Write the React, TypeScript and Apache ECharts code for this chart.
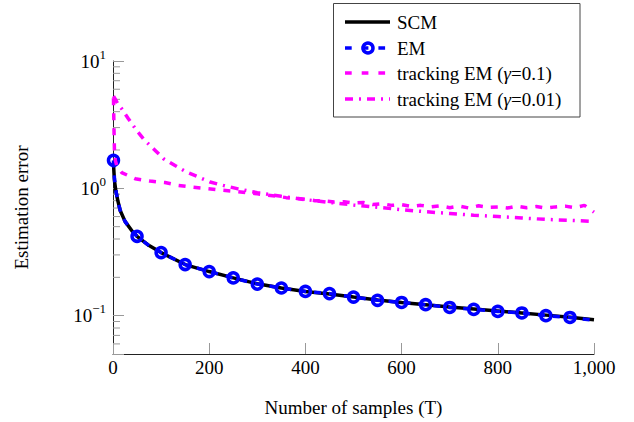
import React, { useEffect, useRef } from 'react';
import * as echarts from 'echarts';

// ---- data ----
const scmT = [1, 3, 6, 10, 15, 25, 40, 50, 75, 100, 150, 200, 250, 300, 350, 400, 450, 500, 550, 600, 650, 700, 750, 800, 850, 900, 950, 1000];
const scmV = [1.55, 1.15, 0.95, 0.8, 0.67, 0.55, 0.46, 0.42, 0.355, 0.313, 0.252, 0.222, 0.198, 0.178, 0.165, 0.155, 0.148, 0.14, 0.133, 0.127, 0.122, 0.117, 0.113, 0.109, 0.105, 0.101, 0.097, 0.093];

const emT = [1, 3, 6, 10, 15, 25, 40, 50, 75, 100, 150, 200, 250, 300, 350, 400, 450, 500, 550, 600, 650, 700, 750, 800, 850, 900, 950, 1000];
const emV = [1.66, 1.2, 0.96, 0.8, 0.67, 0.55, 0.46, 0.42, 0.355, 0.313, 0.252, 0.222, 0.198, 0.177, 0.165, 0.155, 0.149, 0.14, 0.132, 0.127, 0.122, 0.116, 0.112, 0.108, 0.105, 0.1, 0.0968, 0.092];
const emMarkerStep = 50;

const g01T = [1, 2, 3, 5, 8, 18, 46, 77, 108, 136, 167, 195, 229, 254, 280, 300, 320, 340, 360, 380, 400, 420, 440, 460, 480, 500, 520, 540, 560, 580, 600, 620, 640, 660, 680, 700, 720, 740, 760, 780, 800, 820, 840, 860, 880, 900, 920, 940, 960, 980, 1000];
const g01V = [5.1, 3.0, 2.0, 1.65, 1.5, 1.33, 1.19, 1.14, 1.11, 1.055, 1.02, 0.995, 0.965, 0.947, 0.925, 0.905, 0.885, 0.87, 0.845, 0.835, 0.82, 0.8, 0.795, 0.78, 0.785, 0.765, 0.775, 0.745, 0.755, 0.735, 0.745, 0.72, 0.735, 0.715, 0.73, 0.705, 0.725, 0.7, 0.73, 0.71, 0.715, 0.7, 0.725, 0.705, 0.72, 0.7, 0.715, 0.725, 0.705, 0.735, 0.65];

const g001T = [1, 5, 10, 18, 32, 49, 66, 84, 105, 129, 153, 177, 202, 229, 260, 300, 350, 400, 450, 500, 550, 600, 650, 700, 750, 800, 850, 900, 950, 1000];
const g001V = [5.3, 5.0, 4.6, 4.22, 3.52, 2.85, 2.38, 2.05, 1.71, 1.51, 1.34, 1.23, 1.12, 1.055, 0.99, 0.925, 0.865, 0.815, 0.775, 0.74, 0.71, 0.68, 0.655, 0.635, 0.615, 0.6, 0.585, 0.57, 0.56, 0.55];

const yMinorTicks = [0.06, 0.07, 0.08, 0.09, 0.2, 0.3, 0.4, 0.5, 0.6, 0.7, 0.8, 0.9, 2, 3, 4, 5, 6, 7, 8, 9];

const seriesNames = ['SCM', 'EM', 'tracking EM (γ=0.1)', 'tracking EM (γ=0.01)'];
const xTitle = 'Number of samples (T)';
const yTitle = 'Estimation error';

const FONT = 'Liberation Serif';
const FS = 19;
const MAGENTA = '#ff00ff';
const BLUE = '#0000ff';
const DASH = [7, 8];
const DASHDOT = [8, 6, 2, 6];

const zip = (ts: number[], vs: number[]) => ts.map((t, i) => [t, vs[i]]);

export default function App() {
  const ref = useRef<HTMLDivElement>(null);
  useEffect(() => {
    const chart = echarts.init(ref.current!, null, { renderer: 'svg' });
    const legendText = (name: string) => name.replace('γ', '{i|γ}');
    const rowY = [22, 48, 73, 99];
    chart.setOption({
      animation: false,
      textStyle: { fontFamily: FONT },
      grid: { left: 113, right: 40, top: 61, bottom: 68 },
      xAxis: {
        type: 'value',
        min: 0,
        max: 1000,
        interval: 200,
        name: xTitle,
        nameLocation: 'middle',
        nameGap: 44,
        nameTextStyle: { fontFamily: FONT, fontSize: FS, color: '#000' },
        axisLine: { lineStyle: { color: '#222', width: 1 } },
        axisTick: { inside: true, length: 11, lineStyle: { color: '#999', width: 1 } },
        axisLabel: {
          margin: 4,
          fontFamily: FONT,
          fontSize: FS,
          color: '#000',
          formatter: (v: number) => v.toLocaleString('en-US'),
        },
        splitLine: { show: false },
      },
      yAxis: {
        type: 'log',
        logBase: 10,
        min: 0.05,
        max: 10,
        name: yTitle,
        nameLocation: 'middle',
        nameGap: 82,
        nameTextStyle: { fontFamily: FONT, fontSize: FS, color: '#000' },
        axisLine: { show: true, lineStyle: { color: '#222', width: 1 } },
        axisTick: { show: true, inside: true, length: 11, lineStyle: { color: '#999', width: 1 } },
        axisLabel: {
          margin: 7,
          color: '#000',
          formatter: (v: number) => {
            const l = Math.log10(v);
            const e = Math.round(l);
            if (Math.abs(l - e) > 1e-6) return '';
            return `{b|10}{s|${e < 0 ? '−' + -e : e}}`;
          },
          rich: {
            b: { fontFamily: FONT, fontSize: FS, color: '#000' },
            s: { fontFamily: FONT, fontSize: 13, color: '#000', padding: [0, 0, 14, 0] },
          },
        },
        splitLine: { show: false },
      },
      series: [
        {
          type: 'custom',
          name: 'minorTicks',
          silent: true,
          coordinateSystem: 'cartesian2d',
          data: yMinorTicks.map((v) => [0, v]),
          renderItem: (params: any, api: any) => {
            const p = api.coord([0, api.value(1)]);
            return {
              type: 'line',
              shape: { x1: p[0], y1: p[1], x2: p[0] + 7, y2: p[1] },
              style: { stroke: '#999', lineWidth: 1 },
            };
          },
          z: 1,
        },
        {
          type: 'line',
          name: seriesNames[0],
          data: zip(scmT, scmV),
          symbol: 'none',
          lineStyle: { color: '#000', width: 3.5 },
          itemStyle: { color: '#000' },
          z: 2,
        },
        {
          type: 'line',
          name: seriesNames[1],
          data: zip(emT, emV),
          showAllSymbol: true,
          symbol: (value: number[]) =>
            value[0] === 1 || (value[0] % emMarkerStep === 0 && value[0] < 1000) ? 'circle' : 'none',
          symbolSize: 10,
          lineStyle: { color: BLUE, width: 3.5, type: DASH },
          itemStyle: { color: 'rgba(0,0,0,0)', borderColor: BLUE, borderWidth: 3.5 },
          z: 3,
        },
        {
          type: 'line',
          name: seriesNames[2],
          data: zip(g01T, g01V),
          symbol: 'none',
          lineStyle: { color: MAGENTA, width: 3.5, type: DASH },
          itemStyle: { color: MAGENTA },
          z: 4,
        },
        {
          type: 'line',
          name: seriesNames[3],
          data: zip(g001T, g001V),
          symbol: 'none',
          lineStyle: { color: MAGENTA, width: 3.5, type: DASHDOT },
          itemStyle: { color: MAGENTA },
          z: 5,
        },
      ],
      graphic: [
        {
          type: 'group',
          z: 100,
          children: [
            {
              type: 'rect',
              shape: { x: 333.5, y: 3.5, width: 246.5, height: 113.5 },
              style: { fill: '#fff', stroke: '#444', lineWidth: 1 },
            },
            {
              type: 'line',
              shape: { x1: 345, y1: rowY[0], x2: 390, y2: rowY[0] },
              style: { stroke: '#000', lineWidth: 3.5 },
            },
            {
              type: 'line',
              shape: { x1: 345, y1: rowY[1], x2: 390, y2: rowY[1] },
              style: { stroke: BLUE, lineWidth: 3.5, lineDash: [6.7, 10] },
            },
            {
              type: 'circle',
              shape: { cx: 368, cy: rowY[1], r: 5 },
              style: { fill: 'none', stroke: BLUE, lineWidth: 3.5 },
            },
            {
              type: 'line',
              shape: { x1: 345, y1: rowY[2], x2: 390, y2: rowY[2] },
              style: { stroke: MAGENTA, lineWidth: 3.5, lineDash: [6.7, 10] },
            },
            {
              type: 'line',
              shape: { x1: 345, y1: rowY[3], x2: 390, y2: rowY[3] },
              style: { stroke: MAGENTA, lineWidth: 3.5, lineDash: DASHDOT },
            },
            ...seriesNames.map((n, i) => ({
              type: 'text',
              x: 397,
              y: rowY[i],
              style: {
                text: legendText(n),
                fontFamily: FONT,
                fontSize: FS,
                fill: '#000',
                verticalAlign: 'middle',
                rich: { i: { fontFamily: FONT, fontSize: FS, fontStyle: 'italic', fill: '#000' } },
              },
            })),
          ],
        },
      ],
    });
    return () => chart.dispose();
  }, []);
  return <div ref={ref} style={{ position: 'absolute', left: 0, top: 0, width: 634, height: 422 }} />;
}
